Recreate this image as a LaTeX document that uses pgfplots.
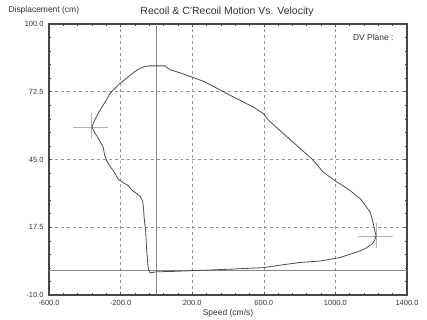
\documentclass[border=0pt]{standalone}
\usepackage{fontspec}
\setmainfont{Liberation Sans}
\usepackage{pgfplots}
\pgfplotsset{compat=1.18}
\definecolor{curve}{RGB}{75,75,75}
\definecolor{frame}{RGB}{70,70,70}
\definecolor{gridc}{RGB}{150,150,150}
\begin{document}
\begin{tikzpicture}
\path[use as bounding box] (-49bp,-25bp) rectangle (378bp,295bp);
\begin{axis}[
  at={(0,0)}, anchor=south west,
  scale only axis, width=358bp, height=271bp,
  xmin=-600, xmax=1400, ymin=-10, ymax=100,
  xtick={-600,-200,200,600,1000,1400},
  ytick={-10,17.5,45,72.5,100},
  minor tick num=4,
  tick pos=both,
  tick align=inside,
  major tick length=3.5bp, minor tick length=2.5bp,
  every tick/.style={frame, line width=0.6pt},
  xticklabel style={/pgf/number format/.cd,fixed,fixed zerofill,precision=1,1000 sep={},assume math mode=true},
  yticklabel style={/pgf/number format/.cd,fixed,fixed zerofill,precision=1,1000 sep={},assume math mode=true},
  tick label style={font=\fontsize{7.5}{8}\selectfont, text=black!80},
  xticklabel shift=1.5bp, yticklabel shift=2bp,
  axis line style={frame, line width=1.4pt},
  grid=major,
  major grid style={gridc, dashed, line width=0.5pt, dash pattern=on 3pt off 3pt},
  clip=true,
]
% zero lines
\addplot[gridc!90!black, line width=0.6pt] coordinates {(0,-10) (0,100)};
\addplot[gridc!90!black, line width=0.6pt] coordinates {(-600,0) (1400,0)};
% crosshair markers
\addplot[gray!60, line width=0.6pt] coordinates {(-466,58.2) (-270,58.2)};
\addplot[gray!60, line width=0.6pt] coordinates {(-361,64) (-361,53.6)};
\addplot[gray!60, line width=0.6pt] coordinates {(1126,14) (1322,14)};
\addplot[gray!60, line width=0.6pt] coordinates {(1227,19.3) (1227,9.1)};
% curve
\addplot[curve, line width=0.8pt] coordinates {
(-36,-1.0) (-45,0.6) (-50,4) (-54,8) (-57,12) (-60,16) (-65,19) (-69,22)
(-72,25) (-76,28) (-90,30) (-110,31.2) (-138,32.6) (-157,34.4) (-185,35.6)
(-213,37) (-241,40.5) (-262,42.5) (-278,44.6) (-290,47) (-297,50) (-320,53)
(-345,56) (-361,58.2) (-345,61) (-315,65) (-285,68.5) (-259,71.8) (-213,75.3)
(-175,77.5) (-130,80.2) (-101,81.6) (-70,82.6) (-45,83.0) (0,83.0) (48,83.0)
(76,81.4) (132,80.2) (197,78.5) (271,76.5) (346,73.6) (400,71.5) (449,69.7)
(541,66.3) (600,63.5) (625,61) (709,55.5) (784,50.7) (868,45.3) (933,39.8)
(998,36.4) (1082,32.4) (1140,29) (1175,25.6) (1195,23.5) (1203,21.5)
(1212,18.8) (1227,14) (1218,12) (1203,10.6) (1170,9) (1138,7.9) (1080,6.5)
(1026,5.2) (914,3.8) (802,3.2) (700,2.2) (596,1.1) (420,0.5) (244,0.0)
(100,-0.4) (0,-0.6) (-36,-1.0)
};
\end{axis}
\node[anchor=west, font=\fontsize{8.5}{9}\selectfont, text=black!80] at (-44bp,285bp) {Displacement (cm)};
\node[font=\fontsize{10.5}{11}\selectfont, text=black!80] at (178bp,283bp) {Recoil \& C'Recoil Motion Vs. Velocity};
\node[anchor=east, font=\fontsize{8.5}{9}\selectfont, text=black!80] at (348bp,258bp) {DV Plane :};
\node[font=\fontsize{8.5}{9}\selectfont, text=black!80] at (179bp,-18bp) {Speed (cm/s)};
\end{tikzpicture}
\end{document}
